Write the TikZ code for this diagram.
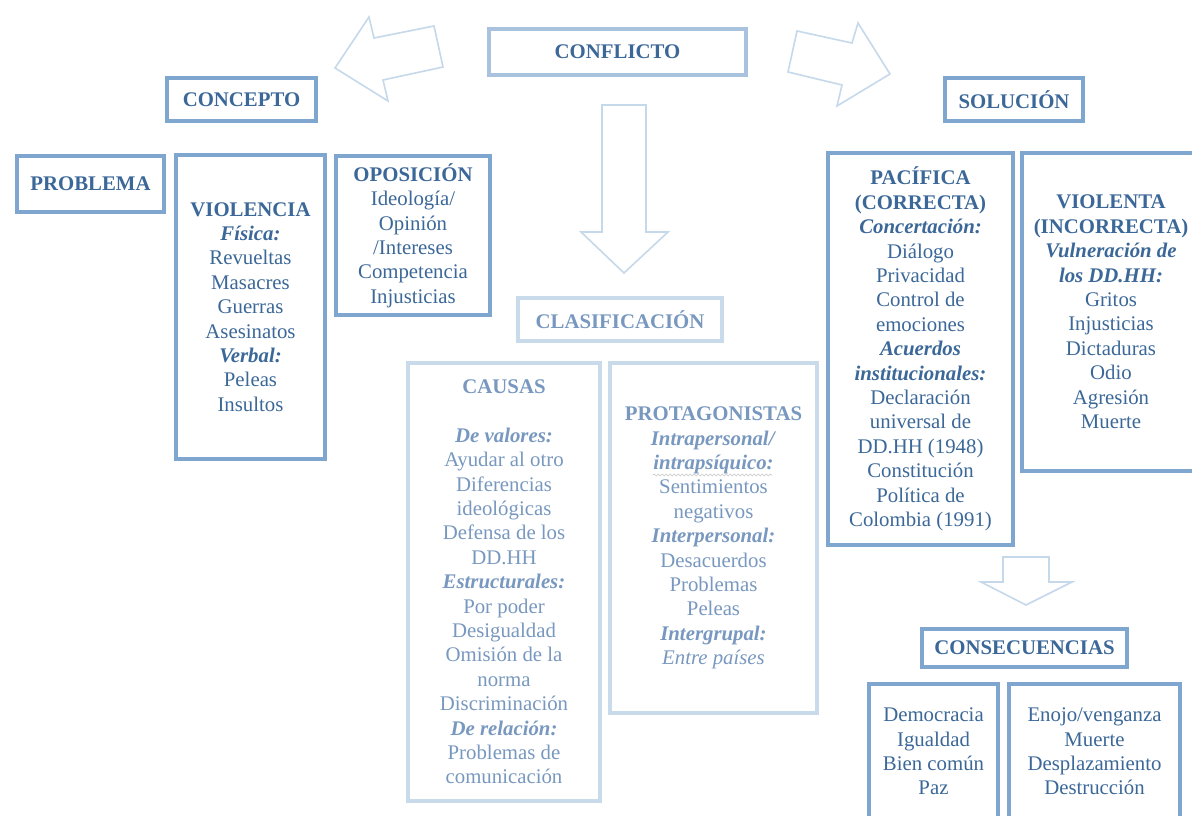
\documentclass[tikz,border=0pt]{standalone}
\usepackage{fontspec}
\setmainfont{Liberation Serif}
\usepackage{tikz}
\usepackage{xcolor}
\usetikzlibrary{positioning,decorations.pathmorphing}
\definecolor{deepink}{HTML}{3B6898}
\definecolor{deepline}{HTML}{7FA6CE}
\definecolor{paleink}{HTML}{7898BF}
\definecolor{paleline}{HTML}{C9DAEB}
\definecolor{midline}{HTML}{A9C3DE}
\definecolor{arrowline}{HTML}{C6D9EB}
\tikzset{
  deepbox/.style={draw=deepline,line width=4pt,text=deepink,
                  align=center,inner sep=0pt,
                  font=\fontsize{20.8}{24.4}\selectfont},
  palebox/.style={deepbox,draw=paleline,text=paleink},
  midbox/.style={deepbox,draw=midline},
  blockarr/.style={draw=arrowline,line width=1.6pt,line join=miter},
  squiggle/.style={draw=gray!45,line width=0.6pt,decorate,
                   decoration={snake,amplitude=1pt,segment length=4pt}}
}

\begin{document}
\begin{tikzpicture}[x=1pt,y=-1pt]
  \fill[white] (0,0) rectangle (1192,816);
  \useasboundingbox (0,0) rectangle (1192,816);

  \node[midbox,minimum width=257pt,minimum height=46pt] (conf) at (617.5,52) {\textbf{CONFLICTO}};
  \draw[blockarr] (369,17) -- (374,38) -- (434,26) -- (443,67) -- (383,80) -- (388,101) -- (335,68) -- cycle;
  \draw[blockarr] (797,31) -- (852,43) -- (858,23) -- (890,74) -- (837,106) -- (842,85) -- (788,72) -- cycle;
  \draw[blockarr] (602,105) -- (646,105) -- (646,232) -- (668,232) -- (624,273) -- (581,232) -- (602,232) -- cycle;

  \node[deepbox,minimum width=149pt,minimum height=43pt] (conc) at (241.5,99.5) {\textbf{CONCEPTO}};
  \node[deepbox,minimum width=147pt,minimum height=56pt] (prob) at (90.5,184) {\textbf{PROBLEMA}};
  \node[deepbox,minimum width=149pt,minimum height=304pt] (viol) at (250.5,307) {%
    \textbf{VIOLENCIA}\\ \textbf{\textit{Física:}}\\ Revueltas\\ Masacres\\ Guerras\\ Asesinatos\\
    \textbf{\textit{Verbal:}}\\ Peleas\\ Insultos};
  \node[deepbox,minimum width=154pt,minimum height=159pt] (opos) at (413,235.5) {%
    \textbf{OPOSICIÓN}\\ Ideología/\\ Opinión\\ /Intereses\\ Competencia\\ Injusticias};

  \node[palebox,minimum width=204pt,minimum height=43pt] (clas) at (620,319.5) {\textbf{CLASIFICACIÓN}};
  \node[palebox,minimum width=192pt,minimum height=438pt] (caus) at (504,582) {%
    \textbf{CAUSAS}\\[24.4pt] \textbf{\textit{De valores:}}\\ Ayudar al otro\\ Diferencias\\ ideológicas\\
    Defensa de los\\ DD.HH\\ \textbf{\textit{Estructurales:}}\\ Por poder\\ Desigualdad\\
    Omisión de la\\ norma\\ Discriminación\\ \textbf{\textit{De relación:}}\\ Problemas de\\ comunicación};
  \node[palebox,minimum width=207pt,minimum height=350pt] (prot) at (713.5,538) {%
    \textbf{PROTAGONISTAS}\\ \textbf{\textit{Intrapersonal/}}\\ \textbf{\textit{intrapsíquico:}}\\
    Sentimientos\\ negativos\\ \textbf{\textit{Interpersonal:}}\\ Desacuerdos\\ Problemas\\ Peleas\\
    \textbf{\textit{Intergrupal:}}\\ \textit{Entre países}};
  \draw[squiggle] (653,475) -- (772,475);

  \node[deepbox,minimum width=138pt,minimum height=43pt] (solu) at (1014,99.5) {\textbf{SOLUCIÓN}};
  \node[deepbox,minimum width=185pt,minimum height=392pt] (paci) at (920.5,349) {%
    \textbf{PACÍFICA}\\ \textbf{(CORRECTA)}\\ \textbf{\textit{Concertación:}}\\ Diálogo\\ Privacidad\\
    Control de\\ emociones\\ \textbf{\textit{Acuerdos}}\\ \textbf{\textit{institucionales:}}\\
    Declaración\\ universal de\\ DD.HH (1948)\\ Constitución\\ Política de\\ Colombia (1991)};
  \node[deepbox,minimum width=178pt,minimum height=318pt] (vlta) at (1111,312) {%
    \textbf{VIOLENTA}\\ \textbf{(INCORRECTA)}\\ \textbf{\textit{Vulneración de}}\\ \textbf{\textit{los DD.HH:}}\\
    Gritos\\ Injusticias\\ Dictaduras\\ Odio\\ Agresión\\ Muerte};

  \draw[blockarr] (1003,557) -- (1049,557) -- (1049,582) -- (1072,582) -- (1026,605) -- (981,582) -- (1003,582) -- cycle;
  \node[deepbox,minimum width=205pt,minimum height=38pt] (cons) at (1024.5,648) {\textbf{CONSECUENCIAS}};
  \node[deepbox,minimum width=129pt,minimum height=135pt] (good) at (933.5,751.5) {%
    Democracia\\ Igualdad\\ Bien común\\ Paz};
  \node[deepbox,minimum width=171pt,minimum height=135pt] (bad) at (1094.5,751.5) {%
    Enojo/venganza\\ Muerte\\ Desplazamiento\\ Destrucción};
\end{tikzpicture}
\end{document}
